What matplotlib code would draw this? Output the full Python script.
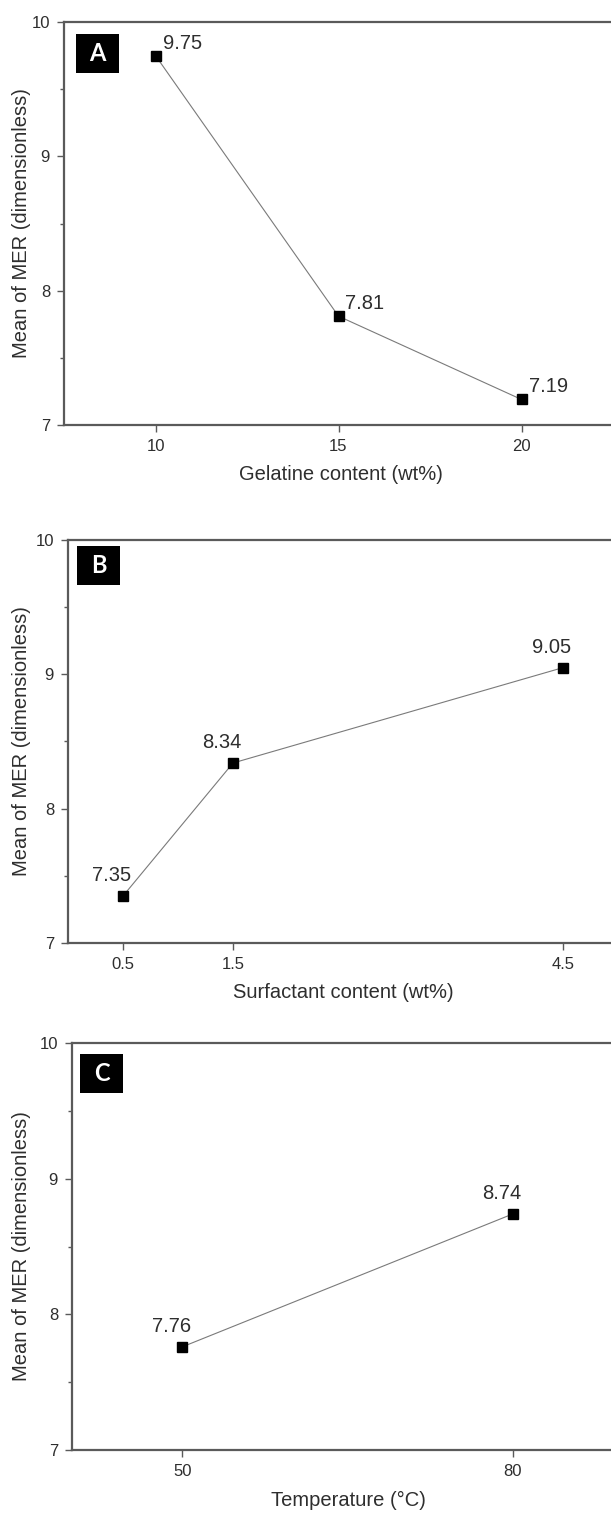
import matplotlib
matplotlib.use("Agg")
import matplotlib.pyplot as plt
from matplotlib.patches import Rectangle
from matplotlib.ticker import MultipleLocator

# ---- data -------------------------------------------------------------
gelatine_wt = [10, 15, 20]
gelatine_mer = [9.75, 7.81, 7.19]

surfactant_wt = [0.5, 1.5, 4.5]
surfactant_mer = [7.35, 8.34, 9.05]

temperature_c = [50, 80]
temperature_mer = [7.76, 8.74]

xlabels = ["Gelatine content (wt%)", "Surfactant content (wt%)", "Temperature (\u00b0C)"]
panel_tags = ["A", "B", "C"]
ylabel = "Mean of MER (dimensionless)"
yticks = [7, 8, 9, 10]

# ---- figure -----------------------------------------------------------
W, H, DPI = 611, 1515, 100
plt.rcParams["font.family"] = ["Liberation Sans", "DejaVu Sans"]
fig = plt.figure(figsize=(W / DPI, H / DPI), dpi=DPI, facecolor="white")

SPINE = "#5a5a5a"
TXT = "#2e2e2e"

# panel frames in pixels: left, top, right, bottom
frames = [
    (64, 22, 613, 425),
    (68, 540, 618, 943),
    (72, 1043, 623, 1450),
]
xlims = [(7.5, 22.5), (0, 5), (40, 90)]
xticks = [gelatine_wt, surfactant_wt, temperature_c]
series = [(gelatine_wt, gelatine_mer), (surfactant_wt, surfactant_mer),
          (temperature_c, temperature_mer)]
# data label placement: (dx px, dy px, ha)
label_pos = [(7, 7, "left"), (-11, 15, "center"), (-11, 15, "center")]
xlabel_centre = [341, 343, 348]
tag_offset = [(12, 12), (9, 6), (8, 11)]

for i, (l, t, r, b) in enumerate(frames):
    ax = fig.add_axes([l / W, 1 - b / H, (r - l) / W, (b - t) / H])
    aw, ah = r - l, b - t
    x, y = series[i]
    ax.plot(x, y, color="#7a7a7a", lw=0.8, zorder=2)
    ax.plot(x, y, ls="none", marker="s", ms=7, color="black", zorder=3)

    dx, dy, ha = label_pos[i]
    for xv, yv in zip(x, y):
        ax.annotate(f"{yv:.2f}", (xv, yv), xytext=(dx, dy), textcoords="offset pixels",
                    ha=ha, va="baseline", fontsize=14.5, color=TXT)

    ax.set_xlim(*xlims[i])
    ax.set_ylim(7, 10)
    ax.set_xticks(xticks[i])
    ax.set_xticklabels([f"{v:g}" for v in xticks[i]])
    ax.set_yticks(yticks)
    ax.yaxis.set_minor_locator(MultipleLocator(0.5))

    for side in ("left", "top", "bottom"):
        ax.spines[side].set_color(SPINE)
        ax.spines[side].set_linewidth(1.6)
    ax.spines["right"].set_visible(False)

    ax.tick_params(axis="both", which="major", direction="out", length=5, width=1,
                   color=SPINE, labelsize=12, labelcolor=TXT, pad=5)
    ax.tick_params(axis="y", which="minor", direction="out", length=3, width=1,
                   color=SPINE)
    ax.tick_params(top=False, right=False)

    ax.set_ylabel(ylabel, fontsize=14.5, color=TXT, va="center")
    ax.yaxis.set_label_coords((22 - l) / aw, 0.5)
    ax.set_xlabel(xlabels[i], fontsize=14.5, color=TXT, va="center")
    ax.xaxis.set_label_coords((xlabel_centre[i] - l) / aw, -50 / ah)

    # black tag box with the panel letter
    ox, oy = tag_offset[i]
    bw, bh = 43, 39
    ax.add_patch(Rectangle((ox / aw, 1 - (oy + bh) / ah), bw / aw, bh / ah,
                           transform=ax.transAxes, facecolor="black",
                           edgecolor="none", zorder=4, clip_on=False))
    ax.text((ox + bw / 2) / aw, 1 - (oy + bh / 2) / ah, panel_tags[i],
            transform=ax.transAxes, ha="center", va="center", color="white",
            fontsize=17, fontweight="bold", family=["Lato", "DejaVu Sans"], zorder=5)

fig.savefig("out.png", dpi=DPI, facecolor="white")
